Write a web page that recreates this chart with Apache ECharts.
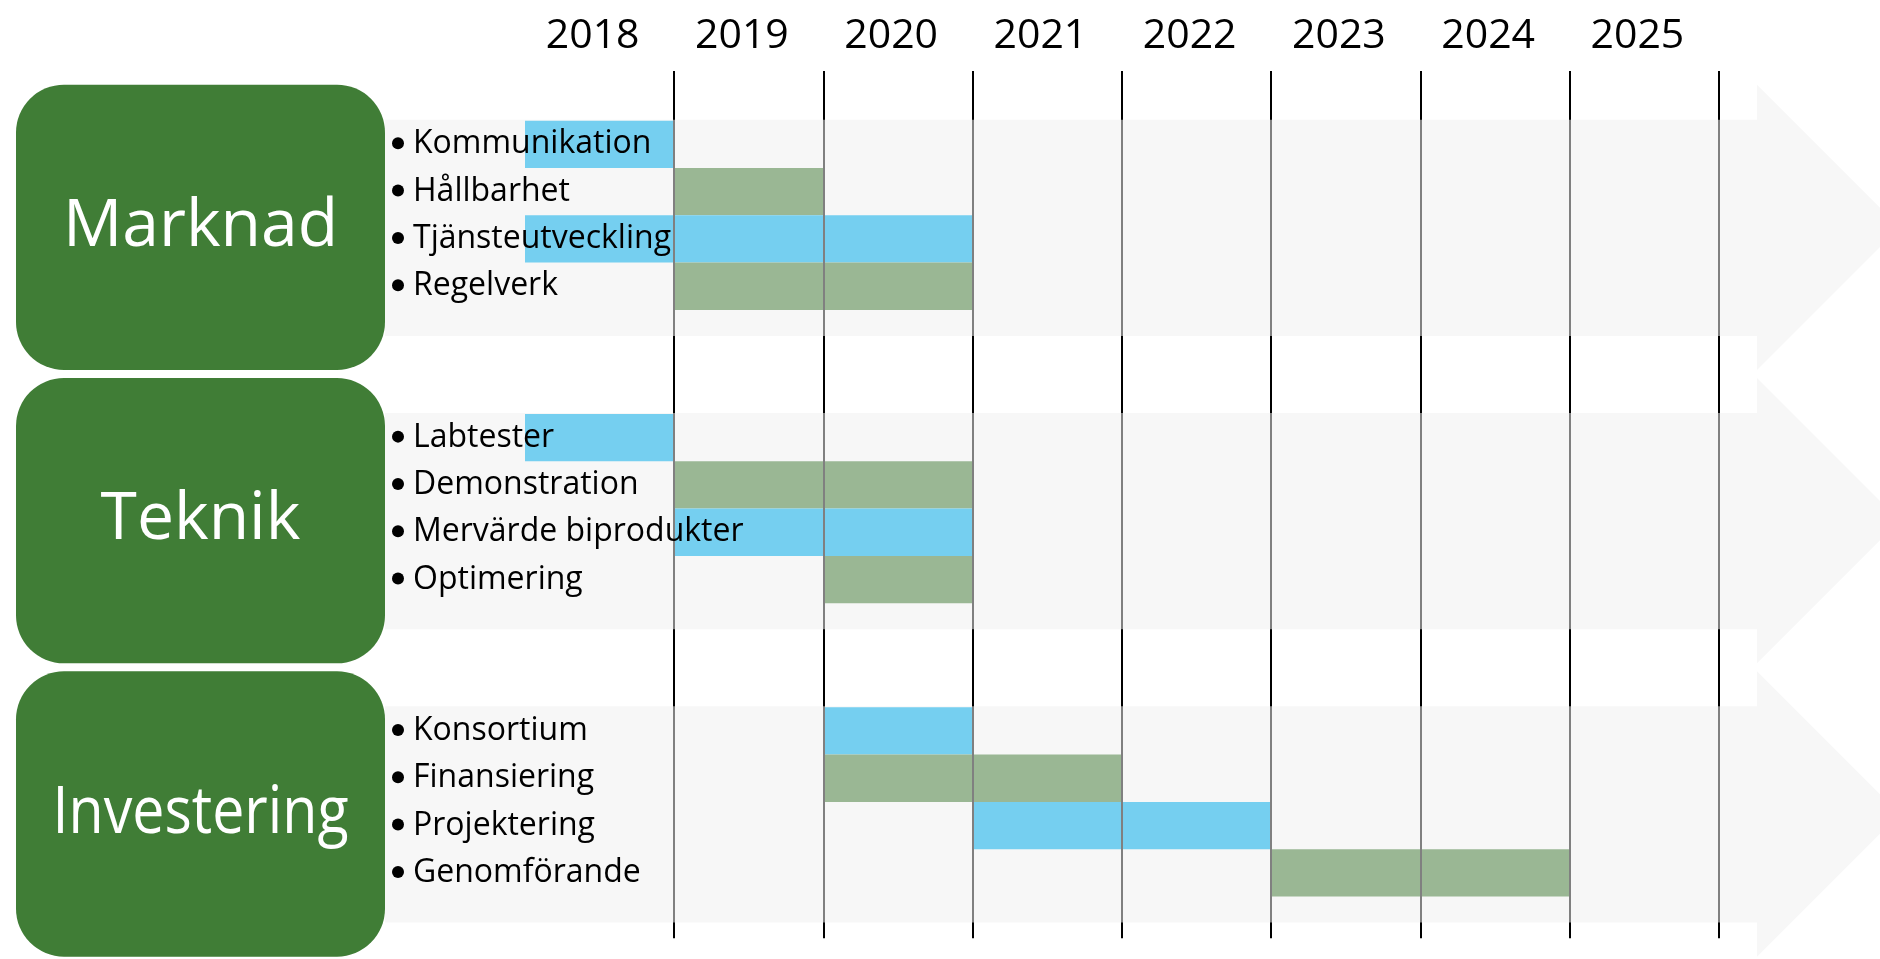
<!DOCTYPE html>
<html>
<head>
<meta charset="utf-8">
<script src="https://cdn.jsdelivr.net/npm/echarts@6/dist/echarts.min.js"></script>
<style>
  html, body { margin: 0; padding: 0; background: #fff; }
  #chart { width: 1880px; height: 959px; }
</style>
</head>
<body>
<div id="chart"></div>
<script>
// --- data ---
const years = ['2018', '2019', '2020', '2021', '2022', '2023', '2024', '2025'];
const groups = ['Marknad', 'Teknik', 'Investering'];
const tasks = [
  'Kommunikation', 'Hållbarhet', 'Tjänsteutveckling', 'Regelverk',
  'Labtester', 'Demonstration', 'Mervärde biprodukter', 'Optimering',
  'Konsortium', 'Finansiering', 'Projektering', 'Genomförande'
];
const taskGroup = [0, 0, 0, 0, 1, 1, 1, 1, 2, 2, 2, 2];
// first year and year after the last one
const taskStart = [2018, 2019, 2018, 2019, 2018, 2019, 2019, 2020, 2020, 2020, 2021, 2023];
const taskEnd = [2019, 2020, 2021, 2021, 2019, 2021, 2021, 2021, 2021, 2022, 2023, 2025];
const taskKind = [0, 1, 0, 1, 0, 1, 0, 1, 0, 1, 0, 1]; // 0 = blå, 1 = grön

// --- layout ---
const FONT = '"Open Sans", sans-serif';
const GROUP_FONT = '66px ' + FONT;
const TASK_FONT = '32px ' + FONT;
const GROUP_TEXT_MAX = 296;
const GROUP_STEP = 6.2;
const BAND_TOP = -0.52, BAND_BOTTOM = 4.05;
const HEAD_TOP = -1.26, HEAD_BOTTOM = 4.77;
const LINE_TOP = -1.55, LINE_BOTTOM = 16.78;
const BOX_LEFT = 16, BOX_RIGHT = 385, BOX_RADIUS = 48;
const SHAFT_EXTRA = 38;
const BULLET_X = 398, BULLET_R = 6, TEXT_X = 413;
const colors = { blue: '#75CFF0', green: '#9AB794', box: '#407D36', band: '#F7F7F7', line: '#808080' };

const counts = [0, 0, 0];
const rowInGroup = taskGroup.map(g => counts[g]++);
const rowY = tasks.map((t, i) => taskGroup[i] * GROUP_STEP + rowInGroup[i]);
const groupY = groups.map((g, i) => i * GROUP_STEP);
const boundaries = years.map(y => +y + 1);
const xMin = +years[0];
const xMax = +years[years.length - 1] + 1;

// Calibri i originalet är smalare, trycker ihop för breda ord
const measureCtx = document.createElement('canvas').getContext('2d');
function fitScale(text, font, maxWidth) {
  measureCtx.font = font;
  const w = measureCtx.measureText(text).width;
  return Math.min(1, maxWidth / w);
}

const chart = echarts.init(document.getElementById('chart'));

const option = {
  animation: false,
  grid: { left: 525, right: 161, top: 0, bottom: 0 },
  xAxis: [
    { type: 'value', min: xMin, max: xMax, show: false },
    {
      type: 'category',
      data: years,
      position: 'top',
      offset: -60,
      axisLine: { show: false },
      axisTick: { show: false },
      splitLine: { show: false },
      axisLabel: {
        fontFamily: FONT, fontSize: 41, color: '#000',
        margin: 24, verticalAlign: 'middle', padding: [0, 14, 0, 0]
      }
    }
  ],
  yAxis: { type: 'value', min: -3.05, max: 17.22, inverse: true, show: false },
  series: [
    {
      // grå pilar
      type: 'custom',
      z: 1,
      data: groupY.map(y => [xMin, y]),
      renderItem: (params, api) => {
        const g = api.value(1);
        const top = api.coord([xMin, g + BAND_TOP])[1];
        const bot = api.coord([xMin, g + BAND_BOTTOM])[1];
        const hTop = api.coord([xMin, g + HEAD_TOP])[1];
        const hBot = api.coord([xMin, g + HEAD_BOTTOM])[1];
        const shaftEnd = api.coord([xMax, 0])[0] + SHAFT_EXTRA;
        const tip = shaftEnd + (hBot - hTop) / 2;
        return {
          type: 'polygon',
          shape: { points: [[BOX_RIGHT, top], [shaftEnd, top], [shaftEnd, hTop], [tip, (hTop + hBot) / 2],
            [shaftEnd, hBot], [shaftEnd, bot], [BOX_RIGHT, bot]] },
          style: { fill: colors.band }
        };
      }
    },
    {
      // gröna rutor
      type: 'custom',
      z: 2,
      data: groupY.map(y => [xMin, y]),
      renderItem: (params, api) => {
        const g = api.value(1);
        const top = api.coord([xMin, g + HEAD_TOP])[1];
        const bot = api.coord([xMin, g + HEAD_BOTTOM])[1];
        const name = groups[params.dataIndex];
        return {
          type: 'group',
          children: [
            {
              type: 'rect',
              shape: { x: BOX_LEFT, y: top, width: BOX_RIGHT - BOX_LEFT, height: bot - top, r: BOX_RADIUS },
              style: { fill: colors.box }
            },
            {
              type: 'text',
              x: (BOX_LEFT + BOX_RIGHT) / 2,
              y: (top + bot) / 2,
              scaleX: fitScale(name, GROUP_FONT, GROUP_TEXT_MAX),
              style: {
                text: name, x: 0, y: 0,
                fill: '#fff', font: GROUP_FONT, align: 'center', verticalAlign: 'middle'
              }
            }
          ]
        };
      }
    },
    {
      // staplar
      type: 'custom',
      z: 3,
      data: tasks.map((t, i) => [taskStart[i], rowY[i], taskEnd[i], taskKind[i]]),
      renderItem: (params, api) => {
        const y = api.value(1);
        const p0 = api.coord([api.value(0), y - 0.5]);
        const p1 = api.coord([api.value(2), y + 0.5]);
        return {
          type: 'rect',
          shape: { x: p0[0], y: p0[1], width: p1[0] - p0[0], height: p1[1] - p0[1] },
          style: { fill: api.value(3) === 0 ? colors.blue : colors.green }
        };
      }
    },
    {
      // årslinjer
      type: 'custom',
      z: 4,
      data: boundaries.map(b => [b, 0]),
      renderItem: (params, api) => {
        const x = Math.round(api.coord([api.value(0), 0])[0]);
        const children = [{
          type: 'line',
          shape: { x1: x, y1: api.coord([xMin, LINE_TOP])[1], x2: x, y2: api.coord([xMin, LINE_BOTTOM])[1] },
          style: { stroke: '#000', lineWidth: 2 }
        }];
        groupY.forEach(g => {
          children.push({
            type: 'line',
            shape: { x1: x, y1: api.coord([xMin, g + BAND_TOP])[1], x2: x, y2: api.coord([xMin, g + BAND_BOTTOM])[1] },
            style: { stroke: colors.line, lineWidth: 2 }
          });
        });
        return { type: 'group', children };
      }
    },
    {
      // punktlista
      type: 'custom',
      z: 5,
      data: rowY.map(y => [xMin, y]),
      renderItem: (params, api) => {
        const y = api.coord([xMin, api.value(1)])[1];
        return {
          type: 'group',
          children: [
            {
              type: 'circle',
              shape: { cx: BULLET_X, cy: y - 1, r: BULLET_R },
              style: { fill: '#000' }
            },
            {
              type: 'text',
              style: { text: tasks[params.dataIndex], x: TEXT_X, y: y, fill: '#000', font: TASK_FONT, align: 'left', verticalAlign: 'middle' }
            }
          ]
        };
      }
    }
  ]
};

chart.setOption(option);
window.addEventListener('resize', () => chart.resize());
</script>
</body>
</html>
